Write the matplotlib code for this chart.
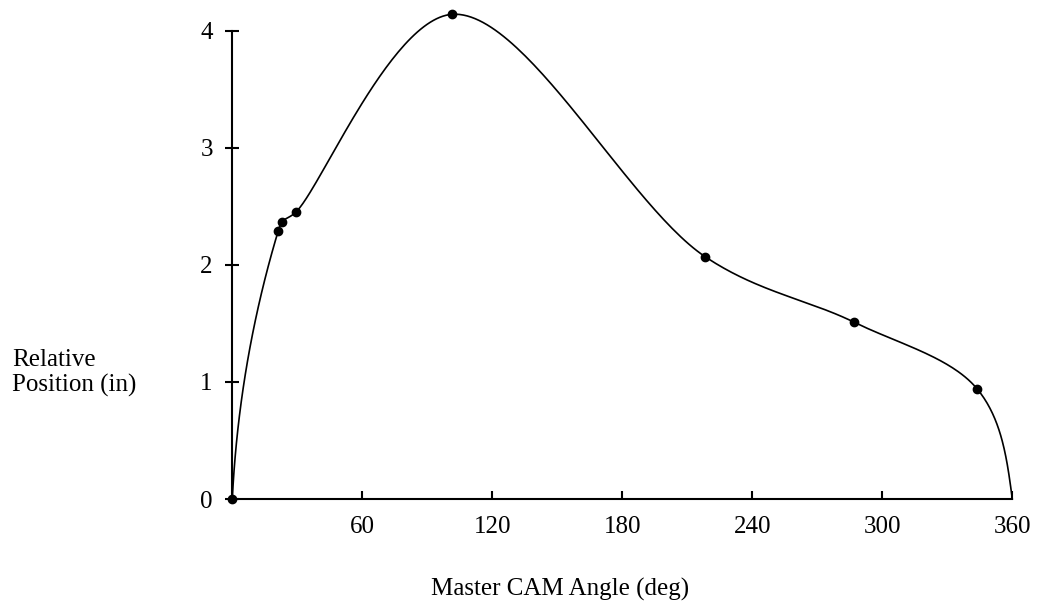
import numpy as np
import matplotlib
matplotlib.use("Agg")
import matplotlib.pyplot as plt

# knot points (last one is the curve end, no marker)
angle = [0, 21.2, 23.1, 29.3, 101.5, 218.2, 287.0, 343.8, 360]
position = [0, 2.29, 2.37, 2.45, 4.14, 2.07, 1.51, 0.94, 0]
x_ticks = [60, 120, 180, 240, 300, 360]
y_ticks = [0, 1, 2, 3, 4]

# rough screen scale, so the curve bends the same way as on the page
sx, sy = 2.1667, 117.1


def hermite(p0, p1, v0, v1, steps=60):
    s = np.linspace(0, 1, steps)[:, None]
    return ((2 * s**3 - 3 * s**2 + 1) * p0 + (s**3 - 2 * s**2 + s) * v0
            + (-2 * s**3 + 3 * s**2) * p1 + (s**3 - s**2) * v1)


def smooth_curve(xs, ys):
    # centripetal catmull-rom through the knots, free ends
    P = np.column_stack([np.array(xs) * sx, np.array(ys) * sy])
    n = len(P)
    seg = np.diff(P, axis=0)
    L = np.hypot(seg[:, 0], seg[:, 1])
    dt = np.sqrt(L)
    m = np.zeros_like(P)
    for i in range(1, n - 1):
        m[i] = (seg[i - 1] / dt[i - 1] - (P[i + 1] - P[i - 1]) / (dt[i - 1] + dt[i])
                + seg[i] / dt[i])
    out = []
    for i in range(n - 1):
        if i == 0:
            v1 = m[1] / np.hypot(*m[1]) * L[0]
            v0 = 2 * seg[0] - v1
        elif i == n - 2:
            v0 = m[i] / np.hypot(*m[i]) * L[i]
            v1 = 1.5 * seg[i] - 0.5 * v0
        else:
            v0, v1 = m[i] * dt[i], m[i + 1] * dt[i]
        out.append(hermite(P[i], P[i + 1], v0, v1))
    out = np.vstack(out)
    return out[:, 0] / sx, out[:, 1] / sy


curve_x, curve_y = smooth_curve(angle, position)

plt.rcParams["font.family"] = ["Liberation Serif", "DejaVu Serif"]

fig = plt.figure(figsize=(10.39, 6.07), dpi=100)
ax = fig.add_axes([232.3 / 1039, 108 / 607, 780 / 1039, 468.3 / 607])

ax.plot(curve_x, curve_y, color="black", lw=1.2, clip_on=False)
ax.plot(angle[:-1], position[:-1], "o", color="black", ms=6, clip_on=False)

ax.set_xlim(0, 360)
ax.set_ylim(0, 4)
ax.set_xticks(x_ticks)
ax.set_yticks(y_ticks)
ax.spines["top"].set_visible(False)
ax.spines["right"].set_visible(False)
ax.spines["left"].set_linewidth(1.5)
ax.spines["bottom"].set_linewidth(1.5)
ax.tick_params(axis="x", direction="in", length=6, width=1.5, pad=12, labelsize=18)
ax.tick_params(axis="y", direction="inout", length=10, width=1.5, pad=9, labelsize=18)

fig.text(560 / 1039, 1 - 589 / 607, "Master CAM Angle (deg)", ha="center", va="center", fontsize=18)
fig.text(12 / 1039, 1 - 373 / 607, "Relative\nPosition (in)", ha="left", va="center",
         fontsize=18, linespacing=1.2)

fig.savefig("out.png", dpi=100)
